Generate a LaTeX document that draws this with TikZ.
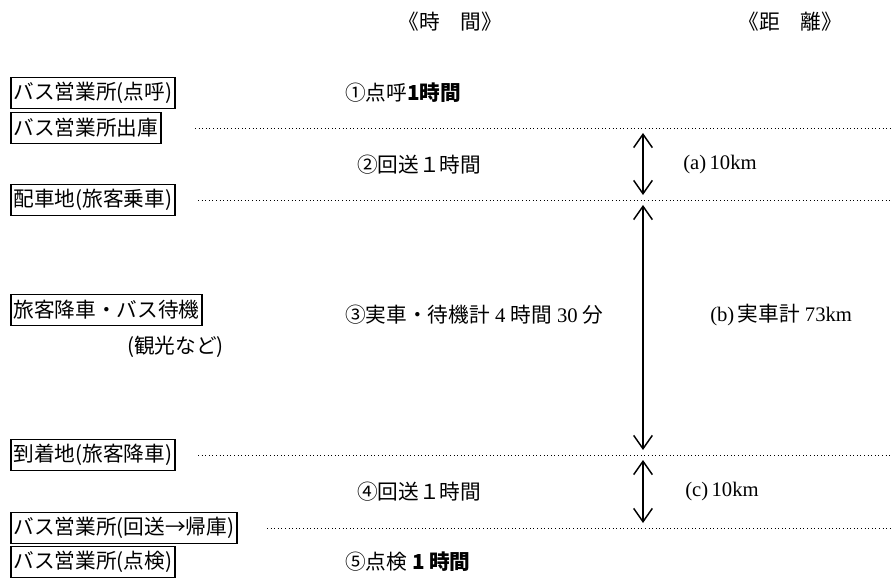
\documentclass[tikz,border=0pt]{standalone}
\usepackage{fontspec}
\setmainfont{Liberation Serif}
\newfontfamily\jp{Noto Sans CJK JP}
\usetikzlibrary{arrows.meta, positioning}
\newcommand{\lat}[1]{{\rmfamily #1}}

\begin{document}
\begin{tikzpicture}[x=0.75pt, y=-0.75pt,
        stopbox/.style={rectangle, draw=black, line width=1.2pt, inner xsep=2pt, inner ysep=0pt, minimum height=23pt, anchor=west, font=\jp\fontsize{15.5pt}{18pt}\selectfont},
        timetxt/.style={anchor=west, inner sep=0pt, font=\jp\fontsize{15.5pt}{18pt}\selectfont},
        headtxt/.style={inner sep=0pt, font=\jp\fontsize{15.5pt}{18pt}\selectfont},
        guide/.style={dotted, line width=0.7pt},
        dimline/.style={{Straight Barb[length=10pt,width=14pt]}-{Straight Barb[length=10pt,width=14pt]}, line width=1.1pt}]
    \useasboundingbox (0,0) rectangle (892,581);

    % Cabecera
    \node [headtxt] (hdtime) at (450,22) {《時　間》};
    \node [headtxt] (hddist) at (790,22) {《距　離》};

    % Paradas (columna izquierda)
    \node [stopbox] (roll) at (10,93) {バス営業所(点呼)};
    \node [stopbox] (depart) at (10,128) {バス営業所出庫};
    \node [stopbox] (board) at (10,200) {配車地(旅客乗車)};
    \node [stopbox] (wait) at (10,310) {旅客降車・バス待機};
    \node [timetxt] (sight) at (127,347) {(観光など)};
    \node [stopbox] (arrive) at (10,455) {到着地(旅客降車)};
    \node [stopbox] (return) at (10,528) {バス営業所(回送→帰庫)};
    \node [stopbox] (check) at (10,562) {バス営業所(点検)};

    % Tiempos
    \node [timetxt] (t1) at (345,93) {①点呼\textbf{1時間}};
    \node [timetxt] (t2) at (357,165) {②回送１時間};
    \node [timetxt] (t3) at (345,315) {③実車・待機計\lat{ 4 }時間\lat{ 30 }分};
    \node [timetxt] (t4) at (357,492) {④回送１時間};
    \node [timetxt] (t5) at (345,562) {⑤点検\textbf{ 1 時間}};

    % Distancias
    \node [timetxt] (d1) at (683,165) {\lat{(a)\,10km}};
    \node [timetxt] (d2) at (710,315) {\lat{(b)\,}実車計\lat{ 73km}};
    \node [timetxt] (d3) at (685,492) {\lat{(c)\,10km}};

    % Lineas guia
    \coordinate (g1s) at (195,128); \coordinate (g1e) at (892,128);
    \coordinate (g2s) at (198,200); \coordinate (g2e) at (892,200);
    \coordinate (g3s) at (198,455); \coordinate (g3e) at (892,455);
    \coordinate (g4s) at (267,528); \coordinate (g4e) at (892,528);
    \draw [guide] (g1s) -- (g1e);
    \draw [guide] (g2s) -- (g2e);
    \draw [guide] (g3s) -- (g3e);
    \draw [guide] (g4s) -- (g4e);

    % Flechas de distancia
    \coordinate (a1) at (643,133); \coordinate (a2) at (643,195);
    \coordinate (b1) at (643,205); \coordinate (b2) at (643,450);
    \coordinate (c1) at (643,460); \coordinate (c2) at (643,523);
    \draw [dimline] (a1) -- (a2);
    \draw [dimline] (b1) -- (b2);
    \draw [dimline] (c1) -- (c2);
\end{tikzpicture}
\end{document}
